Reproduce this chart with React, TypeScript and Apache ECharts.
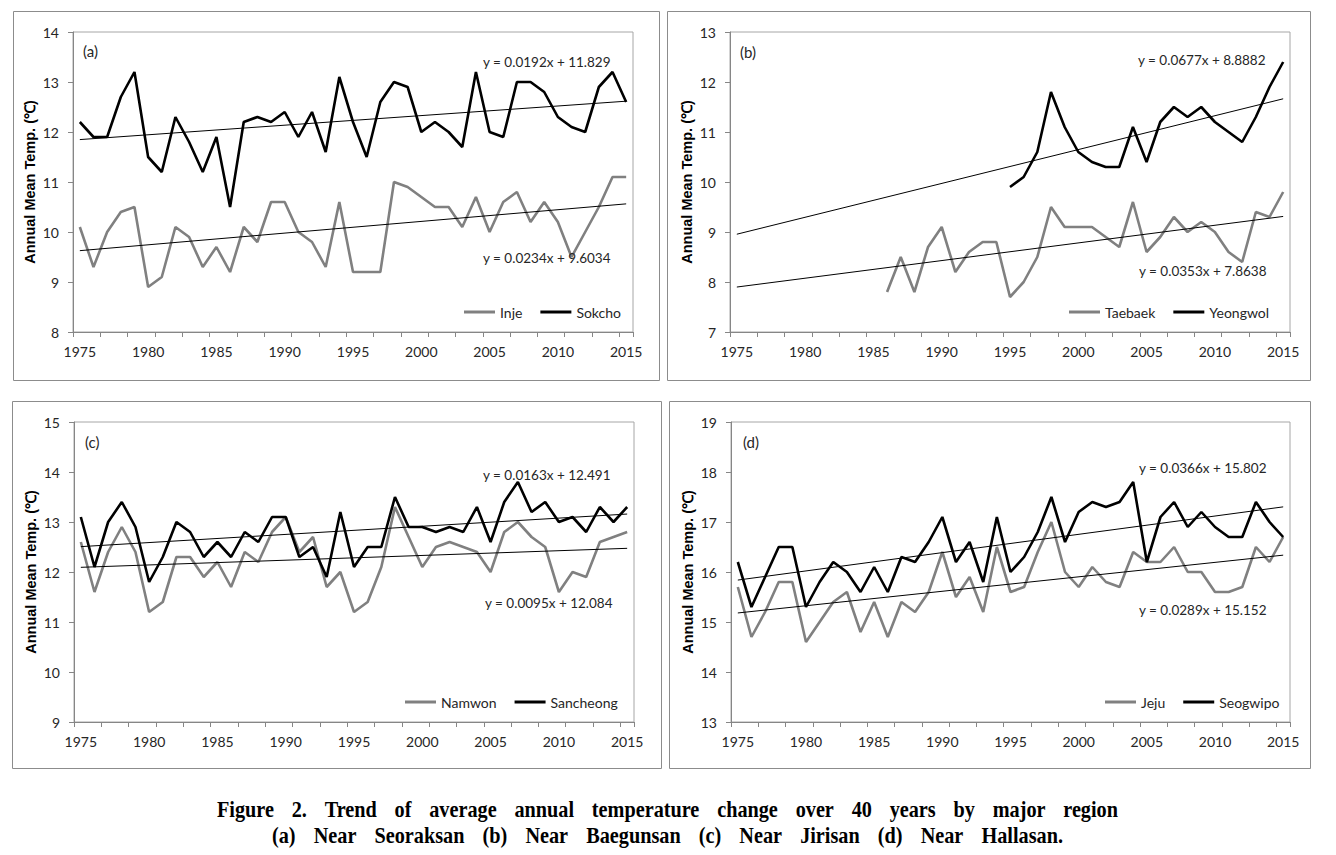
import React, { useEffect, useRef } from 'react';
import * as echarts from 'echarts';

const N = null;
const categories = Array.from({ length: 41 }, (_, i) => String(1975 + i));
const xLabelYears = ['1975', '1980', '1985', '1990', '1995', '2000', '2005', '2010', '2015'];

const inje = [10.1, 9.3, 10.0, 10.4, 10.5, 8.9, 9.1, 10.1, 9.9, 9.3, 9.7, 9.2, 10.1, 9.8, 10.6, 10.6, 10.0, 9.8, 9.3, 10.6, 9.2, 9.2, 9.2, 11.0, 10.9, 10.7, 10.5, 10.5, 10.1, 10.7, 10.0, 10.6, 10.8, 10.2, 10.6, 10.2, 9.5, 10.0, 10.5, 11.1, 11.1];
const sokcho = [12.2, 11.9, 11.9, 12.7, 13.2, 11.5, 11.2, 12.3, 11.8, 11.2, 11.9, 10.5, 12.2, 12.3, 12.2, 12.4, 11.9, 12.4, 11.6, 13.1, 12.2, 11.5, 12.6, 13.0, 12.9, 12.0, 12.2, 12.0, 11.7, 13.2, 12.0, 11.9, 13.0, 13.0, 12.8, 12.3, 12.1, 12.0, 12.9, 13.2, 12.6];
const taebaek = [N, N, N, N, N, N, N, N, N, N, N, 7.8, 8.5, 7.8, 8.7, 9.1, 8.2, 8.6, 8.8, 8.8, 7.7, 8.0, 8.5, 9.5, 9.1, 9.1, 9.1, 8.9, 8.7, 9.6, 8.6, 8.9, 9.3, 9.0, 9.2, 9.0, 8.6, 8.4, 9.4, 9.3, 9.8];
const yeongwol = [N, N, N, N, N, N, N, N, N, N, N, N, N, N, N, N, N, N, N, N, 9.9, 10.1, 10.6, 11.8, 11.1, 10.6, 10.4, 10.3, 10.3, 11.1, 10.4, 11.2, 11.5, 11.3, 11.5, 11.2, 11.0, 10.8, 11.3, 11.9, 12.4];
const namwon = [12.6, 11.6, 12.4, 12.9, 12.4, 11.2, 11.4, 12.3, 12.3, 11.9, 12.2, 11.7, 12.4, 12.2, 12.8, 13.1, 12.4, 12.7, 11.7, 12.0, 11.2, 11.4, 12.1, 13.3, 12.7, 12.1, 12.5, 12.6, 12.5, 12.4, 12.0, 12.8, 13.0, 12.7, 12.5, 11.6, 12.0, 11.9, 12.6, 12.7, 12.8];
const sancheong = [13.1, 12.1, 13.0, 13.4, 12.9, 11.8, 12.3, 13.0, 12.8, 12.3, 12.6, 12.3, 12.8, 12.6, 13.1, 13.1, 12.3, 12.5, 11.9, 13.2, 12.1, 12.5, 12.5, 13.5, 12.9, 12.9, 12.8, 12.9, 12.8, 13.3, 12.6, 13.4, 13.8, 13.2, 13.4, 13.0, 13.1, 12.8, 13.3, 13.0, 13.3];
const jeju = [15.7, 14.7, 15.2, 15.8, 15.8, 14.6, 15.0, 15.4, 15.6, 14.8, 15.4, 14.7, 15.4, 15.2, 15.6, 16.4, 15.5, 15.9, 15.2, 16.5, 15.6, 15.7, 16.4, 17.0, 16.0, 15.7, 16.1, 15.8, 15.7, 16.4, 16.2, 16.2, 16.5, 16.0, 16.0, 15.6, 15.6, 15.7, 16.5, 16.2, 16.7];
const seogwipo = [16.2, 15.3, 15.9, 16.5, 16.5, 15.3, 15.8, 16.2, 16.0, 15.6, 16.1, 15.6, 16.3, 16.2, 16.6, 17.1, 16.2, 16.6, 15.8, 17.1, 16.0, 16.3, 16.8, 17.5, 16.6, 17.2, 17.4, 17.3, 17.4, 17.8, 16.2, 17.1, 17.4, 16.9, 17.2, 16.9, 16.7, 16.7, 17.4, 17.0, 16.7];

// per panel: [gray series, black series]
const seriesNames = [['Inje', 'Sokcho'], ['Taebaek', 'Yeongwol'], ['Namwon', 'Sancheong'], ['Jeju', 'Seogwipo']];
const seriesValues = [[inje, sokcho], [taebaek, yeongwol], [namwon, sancheong], [jeju, seogwipo]];
// linear trend equations shown on the chart (x = 1 for 1975)
const trendSlopes = [[0.0234, 0.0192], [0.0353, 0.0677], [0.0095, 0.0163], [0.0289, 0.0366]];
const trendIntercepts = [[9.6034, 11.829], [7.8638, 8.8882], [12.084, 12.491], [15.152, 15.802]];
const equationTexts = [
  ['y = 0.0234x + 9.6034', 'y = 0.0192x + 11.829'],
  ['y = 0.0353x + 7.8638', 'y = 0.0677x + 8.8882'],
  ['y = 0.0095x + 12.084', 'y = 0.0163x + 12.491'],
  ['y = 0.0289x + 15.152', 'y = 0.0366x + 15.802'],
];
const yMins = [8, 7, 9, 13];
const yMaxs = [14, 13, 15, 19];
const panelLabels = ['(a)', '(b)', '(c)', '(d)'];
const yAxisTitle = 'Annual Mean Temp. (\u2103)';
const captionLines = [
  'Figure 2. Trend of average annual temperature change over 40 years by major region',
  '(a) Near Seoraksan (b) Near Baegunsan (c) Near Jirisan (d) Near Hallasan.',
];

// layout (pixels)
const layout = [
  { grid: [73, 32, 560, 300], box: [13, 11, 646, 369], eq: [[483, 258], [483, 62]], legend: [464, 313], label: [83, 51] },
  { grid: [730, 32, 560, 300], box: [667, 11, 643, 369], eq: [[1139, 271], [1138, 60]], legend: [1069, 313], label: [740, 52] },
  { grid: [74, 422, 560, 300], box: [12, 401, 649, 367], eq: [[485, 603], [483, 475]], legend: [405, 703], label: [85, 442] },
  { grid: [731, 422, 559, 300], box: [669, 401, 641, 367], eq: [[1139, 610], [1139, 468]], legend: [1105, 703], label: [743, 442] },
];
const captionLayout = [[217, 1118, 810], [272, 1063, 836]];

const GRAY = '#808080';
const AXIS = '#868686';
const TEXT = '#262626';
const FONT = 'Lato';

export default function App() {
  const ref = useRef<HTMLDivElement>(null);
  useEffect(() => {
    if (!ref.current) return;
    const chart = echarts.init(ref.current, undefined, { renderer: 'svg' });

    const grids: any[] = [];
    const xAxes: any[] = [];
    const yAxes: any[] = [];
    const series: any[] = [];
    const legends: any[] = [];
    const graphics: any[] = [];

    layout.forEach((L, p) => {
      graphics.push({
        type: 'rect', shape: { x: L.box[0] + 0.5, y: L.box[1] + 0.5, width: L.box[2], height: L.box[3] },
        style: { fill: 'none', stroke: '#8c8c8c', lineWidth: 1 }, z: 0,
      });
      grids.push({ left: L.grid[0], top: L.grid[1], width: L.grid[2], height: L.grid[3], show: true, borderColor: '#a6a6a6', borderWidth: 1, backgroundColor: 'transparent' });
      xAxes.push({
        type: 'category', gridIndex: p, data: categories, boundaryGap: true,
        axisLine: { show: true, lineStyle: { color: AXIS, width: 1 } },
        axisTick: { show: true, interval: 1, length: 5, lineStyle: { color: AXIS } },
        axisLabel: {
          interval: (i: number, v: string) => xLabelYears.indexOf(v) >= 0,
          margin: 12, fontSize: 14, fontFamily: FONT, color: TEXT,
        },
        splitLine: { show: false },
      });
      yAxes.push({
        type: 'value', gridIndex: p, min: yMins[p], max: yMaxs[p], interval: 1,
        name: yAxisTitle, nameLocation: 'middle', nameGap: 36,
        nameTextStyle: { fontFamily: 'Liberation Sans', fontWeight: 'bold', fontSize: 14.5, color: '#000' },
        axisLine: { show: true, lineStyle: { color: AXIS, width: 1 } },
        axisTick: { show: true, length: 5, lineStyle: { color: AXIS } },
        axisLabel: { margin: 14, fontSize: 14, fontFamily: FONT, color: TEXT },
        splitLine: { show: false },
      });
      const colors = [GRAY, '#000000'];
      [0, 1].forEach((k) => {
        series.push({
          name: seriesNames[p][k], type: 'line', xAxisIndex: p, yAxisIndex: p,
          data: seriesValues[p][k], symbol: 'none', connectNulls: false,
          lineStyle: { color: colors[k], width: 2.6 }, itemStyle: { color: colors[k] }, z: 2,
        });
      });
      [0, 1].forEach((k) => {
        const a = trendSlopes[p][k];
        const b = trendIntercepts[p][k];
        series.push({
          name: 'trend' + p + k, type: 'line', xAxisIndex: p, yAxisIndex: p,
          data: [[categories[0], a * 1 + b], [categories[40], a * 41 + b]],
          symbol: 'none', silent: true,
          lineStyle: { color: '#000', width: 1 }, itemStyle: { color: '#000' }, z: 3,
        });
        graphics.push({
          type: 'text', x: L.eq[k][0], y: L.eq[k][1], z: 10,
          style: { text: equationTexts[p][k], fontFamily: FONT, fontSize: 13.5, fill: TEXT, align: 'left', verticalAlign: 'middle' },
        });
      });
      legends.push({
        data: seriesNames[p], left: L.legend[0], top: L.legend[1] - 8, padding: 0,
        icon: 'rect', itemWidth: 31, itemHeight: 3, itemGap: 18,
        textStyle: { fontFamily: FONT, fontSize: 14, color: TEXT }, selectedMode: false,
      });
      graphics.push({
        type: 'text', x: L.label[0], y: L.label[1], z: 10,
        style: { text: panelLabels[p], fontFamily: FONT, fontSize: 15, fill: TEXT, align: 'left', verticalAlign: 'middle' },
      });
    });

    // caption, justified per line
    const capSize = 23;
    const capScale = 0.88;
    const canvas = document.createElement('canvas');
    const ctx = canvas.getContext('2d');
    captionLines.forEach((line, li) => {
      const words = line.split(' ');
      const [x0, x1, y] = captionLayout[li];
      let widths = words.map((w) => w.length * capSize * 0.45);
      if (ctx) {
        ctx.font = `bold ${capSize}px "Liberation Serif"`;
        widths = words.map((w) => ctx.measureText(w).width * capScale);
      }
      const total = widths.reduce((s, w) => s + w, 0);
      const gap = (x1 - x0 - total) / (words.length - 1);
      let x = x0;
      words.forEach((w, i) => {
        graphics.push({
          type: 'text', x, y, scaleX: capScale, z: 10,
          style: { text: w, fontFamily: 'Liberation Serif', fontWeight: 'bold', fontSize: capSize, fill: '#000', align: 'left', verticalAlign: 'middle' },
        });
        x += widths[i] + gap;
      });
    });

    chart.setOption({
      animation: false,
      backgroundColor: '#ffffff',
      grid: grids,
      xAxis: xAxes,
      yAxis: yAxes,
      legend: legends,
      series,
      graphic: graphics,
    });
    return () => chart.dispose();
  }, []);
  return <div ref={ref} style={{ position: 'absolute', left: 0, top: 0, width: 1336, height: 855, background: '#fff' }} />;
}
